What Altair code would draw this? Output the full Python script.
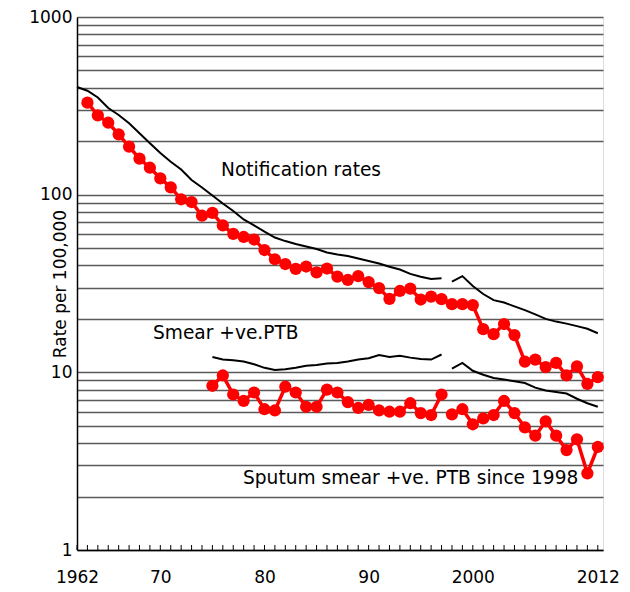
import altair as alt
import pandas as pd

# ---------------- data ----------------
years_all = list(range(1962, 2013))

# Notification rates (black line), 1962-1997 and 1998-2012
notif_years_a = list(range(1962, 1998))
notif_a = [403.6, 384.7, 352.2, 307.4, 280.8, 252.1, 221.5, 194.6, 171.6, 153.3,
           138.5, 120.9, 109.7, 98.9, 89.2, 80.9, 72.5, 67.1, 61.9, 57.4,
           54.8, 52.8, 51.1, 49.4, 47.3, 46.0, 45.2, 43.7, 42.3, 41.0,
           39.3, 37.9, 35.8, 34.5, 33.5, 33.8]
notif_years_b = list(range(1998, 2013))
notif_b = [32.4, 34.8, 30.6, 27.6, 25.5, 24.7, 23.5, 22.4, 21.2, 20.0,
           19.3, 18.8, 18.2, 17.6, 16.6]

# Notification rates (red, with dots), 1963-2012
red_notif_years = list(range(1963, 2013))
red_notif = [329.4, 279.7, 254.1, 218.6, 186.2, 159.4, 141.8, 123.6, 110.0, 94.2,
             90.9, 76.1, 78.9, 67.1, 60.1, 57.8, 55.9, 48.8, 43.3, 40.7,
             38.2, 39.4, 36.5, 38.4, 34.6, 33.1, 34.8, 32.2, 29.8, 25.9,
             28.7, 29.6, 25.7, 26.7, 25.8, 24.2, 24.2, 23.9, 17.5, 16.4,
             18.7, 16.2, 11.5, 11.8, 10.7, 11.3, 9.6, 10.8, 8.6, 9.4]

# Smear +ve PTB (black line), 1975-1997 and 1998-2012
smear_years_a = list(range(1975, 1998))
smear_a = [12.2, 11.8, 11.7, 11.5, 11.1, 10.6, 10.3, 10.4, 10.6, 10.9,
           11.0, 11.2, 11.3, 11.5, 11.8, 12.0, 12.5, 12.2, 12.4, 12.1,
           11.9, 11.8, 12.6]
smear_years_b = list(range(1998, 2013))
smear_b = [10.5, 11.3, 10.2, 9.7, 9.3, 9.1, 8.9, 8.7, 8.2, 7.9,
           7.75, 7.6, 7.1, 6.7, 6.4]

# Smear +ve PTB (red, with dots), 1975-1997 and 1998-2012
red_smear_years_a = list(range(1975, 1998))
red_smear_a = [8.4, 9.6, 7.5, 6.9, 7.7, 6.2, 6.1, 8.3, 7.7, 6.4,
               6.4, 8.0, 7.7, 6.8, 6.3, 6.55, 6.1, 6.0, 6.0, 6.7,
               5.9, 5.75, 7.5]
red_smear_years_b = list(range(1998, 2013))
red_smear_b = [5.8, 6.2, 5.1, 5.5, 5.75, 6.9, 5.9, 4.9, 4.4, 5.3,
               4.4, 3.65, 4.2, 2.7, 3.8]

x_tick_values = [1962, 1970, 1980, 1990, 2000, 2012]
x_tick_labels = ["1962", "70", "80", "90", "2000", "2012"]
y_grid_values = [m * 10 ** k for k in range(3) for m in range(1, 10)] + [1000]
y_label_values = [1, 10, 100, 1000]

annotations = ["Notification rates", "Smear +ve.PTB", "Sputum smear +ve. PTB since 1998"]

# ---------------- tables ----------------
def seg(years, vals, name):
    return pd.DataFrame({"year": years, "rate": vals, "segment": name})

black_df = pd.concat([
    seg(notif_years_a, notif_a, "notif_a"),
    seg(notif_years_b, notif_b, "notif_b"),
    seg(smear_years_a, smear_a, "smear_a"),
    seg(smear_years_b, smear_b, "smear_b"),
])
red_df = pd.concat([
    seg(red_notif_years, red_notif, "rnotif"),
    seg(red_smear_years_a, red_smear_a, "rsmear_a"),
    seg(red_smear_years_b, red_smear_b, "rsmear_b"),
])
ticks_df = pd.DataFrame({"year": years_all})

W, H = 526, 533
FONT = "DejaVu Sans"

x_label_expr = " : ".join(
    [f"datum.value == {v} ? '{l}'" for v, l in zip(x_tick_values, x_tick_labels)]
) + " : ''"
y_label_expr = " || ".join([f"datum.value == {v}" for v in y_label_values]) + " ? format(datum.value, 'd') : ''"

xscale = alt.Scale(domain=[1962, 2012.5], nice=False, zero=False)
yscale = alt.Scale(type="log", domain=[1, 1000], nice=False)

x_enc = alt.X("year:Q", scale=xscale,
              axis=alt.Axis(values=x_tick_values, labelExpr=x_label_expr, title=None,
                            grid=False, ticks=False, labelPadding=19, labelFontSize=17,
                            labelFont=FONT, labelColor="black", domainColor="black",
                            domainWidth=1.5, labelFlush=False))
y_enc = alt.Y("rate:Q", scale=yscale,
              axis=alt.Axis(values=y_grid_values, labelExpr=y_label_expr,
                            title="Rate per 100,000", titleFontSize=17, titleFont=FONT,
                            titleFontWeight="normal", titleColor="black",
                            titleX=-17, titleY=H / 2, titleAngle=-90, titleAlign="center",
                            titleBaseline="middle",
                            grid=True, gridColor="#5a5a5a", gridWidth=1.3,
                            ticks=False, labelPadding=5, labelFontSize=17, labelFont=FONT,
                            labelColor="black", domainColor="black", domainWidth=1.5))

black = alt.Chart(black_df).mark_line(color="black", strokeWidth=2).encode(
    x=x_enc, y=y_enc, detail="segment:N", order="year:Q")

red = alt.Chart(red_df).mark_line(
    color="#ff0000", strokeWidth=3.5,
    point=alt.OverlayMarkDef(color="#ff0000", filled=True, size=150, opacity=1)
).encode(x="year:Q", y="rate:Q", detail="segment:N", order="year:Q")

year_ticks = alt.Chart(ticks_df).mark_rule(color="black", strokeWidth=1).encode(
    x="year:Q", y=alt.value(H - 5), y2=alt.value(H))

def label(text, px, py):
    return alt.Chart(pd.DataFrame({"t": [text]})).mark_text(
        align="left", baseline="middle", fontSize=18.6, font=FONT, color="black"
    ).encode(text="t:N", x=alt.value(px), y=alt.value(py))

texts = label(annotations[0], 144, 153) + label(annotations[1], 76, 316) + label(annotations[2], 166, 461)

chart = alt.layer(black, red, year_ticks, texts).properties(
    width=W, height=H,
    autosize=alt.AutoSizeParams(type="none"),
    padding={"left": 69, "top": 9, "right": 19, "bottom": 39},
).configure_view(stroke="black", strokeWidth=1.5).configure(background="white")

chart.save("out.html", embed_options={"renderer": "svg", "actions": False})
